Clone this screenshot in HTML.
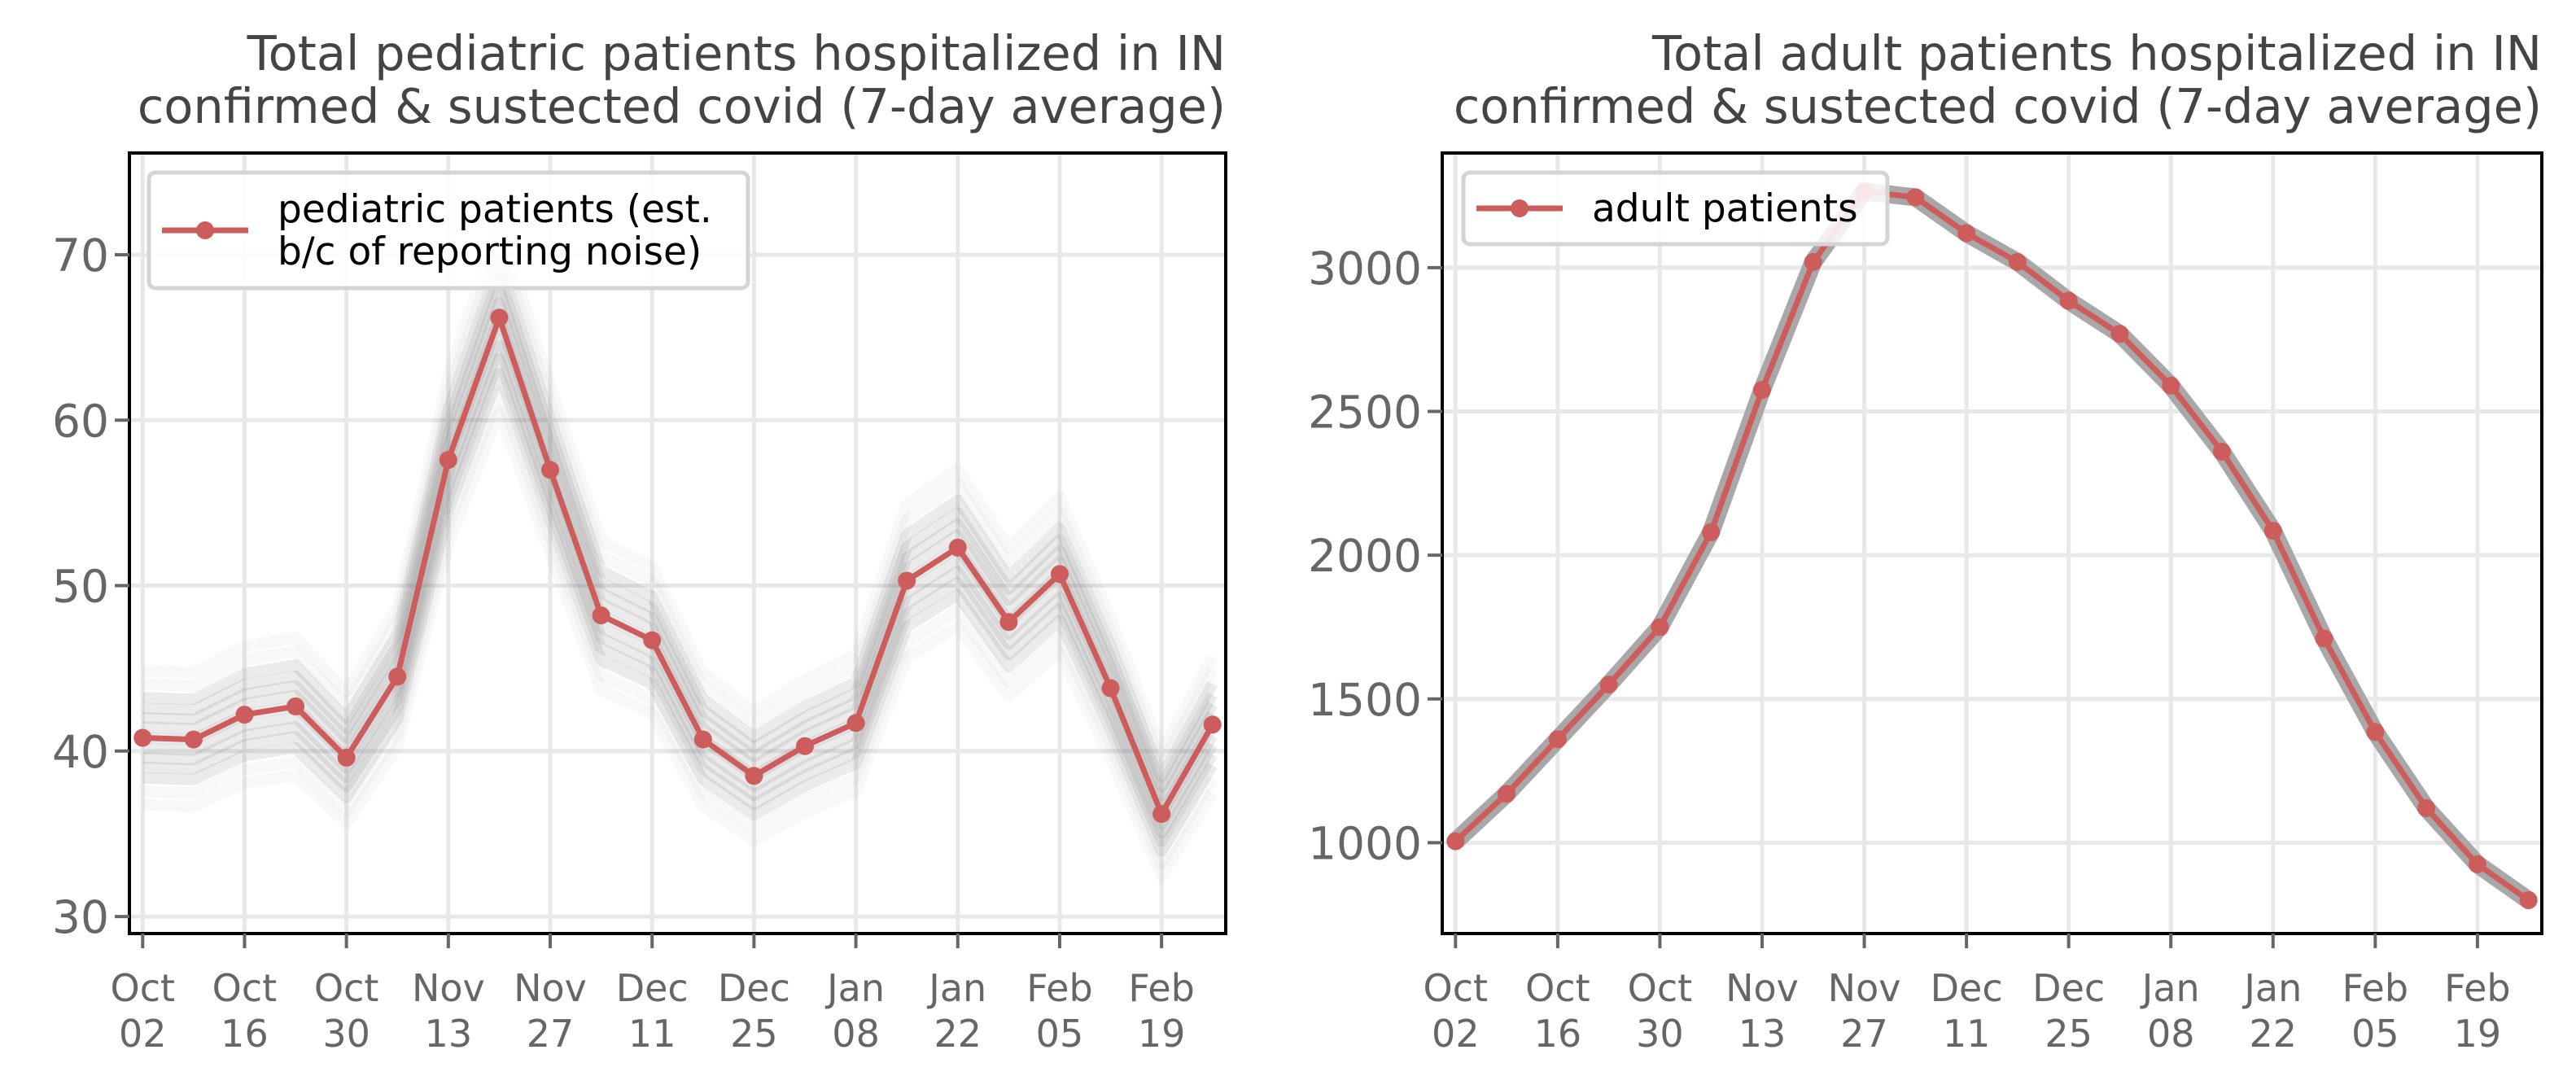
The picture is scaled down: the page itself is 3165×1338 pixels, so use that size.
<!DOCTYPE html>
<html><head><meta charset="utf-8"><style>
html,body{margin:0;padding:0;background:#fff;}
svg{display:block;font-family:"DejaVu Sans","Liberation Sans",sans-serif;}
</style></head><body>
<svg id="chart" width="3165" height="1338" viewBox="0 0 3165 1338" xmlns="http://www.w3.org/2000/svg">
<g id="left"></g>
<g id="right"></g>
</svg>
<script>
const xTickLabels = [["Oct","02"],["Oct","16"],["Oct","30"],["Nov","13"],["Nov","27"],["Dec","11"],["Dec","25"],["Jan","08"],["Jan","22"],["Feb","05"],["Feb","19"]];
const pediatricValues = [40.8,40.7,42.2,42.7,39.6,44.5,57.6,66.2,57.0,48.2,46.7,40.7,38.5,40.3,41.7,50.3,52.3,47.8,50.7,43.8,36.2,41.6];
const adultValues = [1005,1170,1360,1550,1750,2080,2575,3020,3265,3245,3120,3020,2885,2770,2590,2360,2085,1710,1385,1120,925,800];
const pedYTicks = [30,40,50,60,70];
const adultYTicks = [1000,1500,2000,2500,3000];
const NS = "http://www.w3.org/2000/svg";
const RED = "#cd5c5c";

function mk(tag, attrs, parent){
  const e = document.createElementNS(NS, tag);
  for (const k in attrs) e.setAttribute(k, attrs[k]);
  parent.appendChild(e);
  return e;
}

function panel(g, cfg){
  const {x0,x1,y0,y1,ymin,ymax,vals,yticks,title1,title2,legend,legendBox,band} = cfg;
  const n = vals.length;
  const xs = i => x0 + (i + 0.26) / (n - 1 + 0.52) * (x1 - x0);
  const ys = v => y1 - (v - ymin) / (ymax - ymin) * (y1 - y0);
  xTickLabels.forEach((lab,k)=>{
    const l = mk('line',{x1:xs(k*2),x2:xs(k*2),y1:y0,y2:y1,stroke:'#e8e8e8','stroke-width':5},g);
    
    
  });
  yticks.forEach(t=>{
    const l = mk('line',{x1:x0,x2:x1,y1:ys(t),y2:ys(t),stroke:'#e8e8e8','stroke-width':5},g);
    
    
  });
  const pts = vals.map((v,i)=>xs(i)+','+ys(v)).join(' ');
  if (band){
    const offs = [-5,-4,-3,-2.2,-1.5,-0.8,0,0.8,1.5,2.2,3,4,5];
    offs.forEach(o=>{
      const p = vals.map((v,i)=>xs(i)+','+ys(v + o*(0.3+ v/ 80))).join(' ');
      const pl = mk('polyline',{points:p,fill:'none',stroke:'#707070','stroke-opacity':Math.abs(o)>3?0.05:0.14,'stroke-width':14,'stroke-linejoin':'round'},g);
      
      
    });
  } else {
    const pl = mk('polyline',{points:pts,fill:'none',stroke:'#a8a8a8','stroke-width':22,'stroke-linejoin':'round'},g);
    
    
  }
  const line = mk('polyline',{points:pts,fill:'none',stroke:RED,'stroke-width':7,'stroke-linejoin':'round'},g);
  
  
  vals.forEach((v,i)=>{
    const c = mk('circle',{cx:xs(i),cy:ys(v),r:11,fill:RED},g);
    
    
  });
  const fr = mk('rect',{x:x0,y:y0,width:x1-x0,height:y1-y0,fill:'none',stroke:'#000','stroke-width':4},g);
  
  
  yticks.forEach(t=>{
    const tk = mk('line',{x1:x0-18,x2:x0,y1:ys(t),y2:ys(t),stroke:'#666','stroke-width':4},g);
    
    
    const tx = mk('text',{x:x0-25,y:ys(t)+20,'text-anchor':'end','font-size':55,fill:'#666'},g);
    tx.textContent = t;
    
    
  });
  xTickLabels.forEach((lab,k)=>{
    const x = xs(k*2);
    const tk = mk('line',{x1:x,x2:x,y1:y1,y2:y1+18,stroke:'#666','stroke-width':4},g);
    
    
    const tx = mk('text',{x:x,y:y1+83,'text-anchor':'middle','font-size':46,fill:'#666'},g);
    tx.textContent = lab[0];
    
    
    const tx2 = mk('text',{x:x,y:y1+139,'text-anchor':'middle','font-size':46,fill:'#666'},g);
    tx2.textContent = lab[1];
    
    
  });
  const t1 = mk('text',{x:x1,y:86,'text-anchor':'end','font-size':59,fill:'#444'},g);
  t1.textContent = title1;
  
  
  const t2 = mk('text',{x:x1,y:151,'text-anchor':'end','font-size':59,fill:'#444'},g);
  t2.textContent = title2;
  
  
  const lb = legendBox;
  const lg = mk('g',{},g);
  
  
  mk('rect',{x:lb[0],y:lb[1],width:lb[2],height:lb[3],rx:8,fill:'#fff','fill-opacity':0.85,stroke:'#d4d4d4','stroke-width':5},lg);
  const ly = lb[1] + lb[3]/2;
  mk('line',{x1:lb[0]+16,x2:lb[0]+122,y1:ly,y2:ly,stroke:RED,'stroke-width':7},lg);
  mk('circle',{cx:lb[0]+69,cy:ly,r:11,fill:RED},lg);
  legend.forEach((s,i)=>{
    const tx = mk('text',{x:lb[0]+158,y:ly + 16 + (i - (legend.length-1)/2)*52,'font-size':47,fill:'#000'},lg);
    tx.textContent = s;
    
    
  });
}

panel(document.getElementById('left'),{x0:159,x1:1506,y0:188,y1:1147,ymin:28.97,ymax:76.15,vals:pediatricValues,yticks:pedYTicks,
  title1:'Total pediatric patients hospitalized in IN',title2:'confirmed & sustected covid (7-day average)',
  legend:['pediatric patients (est.','b/c of reporting noise)'],legendBox:[183,212,736,142],band:true});
panel(document.getElementById('right'),{x0:1772,x1:3123,y0:188,y1:1147,ymin:684,ymax:3399,vals:adultValues,yticks:adultYTicks,
  title1:'Total adult patients hospitalized in IN',title2:'confirmed & sustected covid (7-day average)',
  legend:['adult patients'],legendBox:[1798,212,521,88],band:false});
</script>
</body></html>
